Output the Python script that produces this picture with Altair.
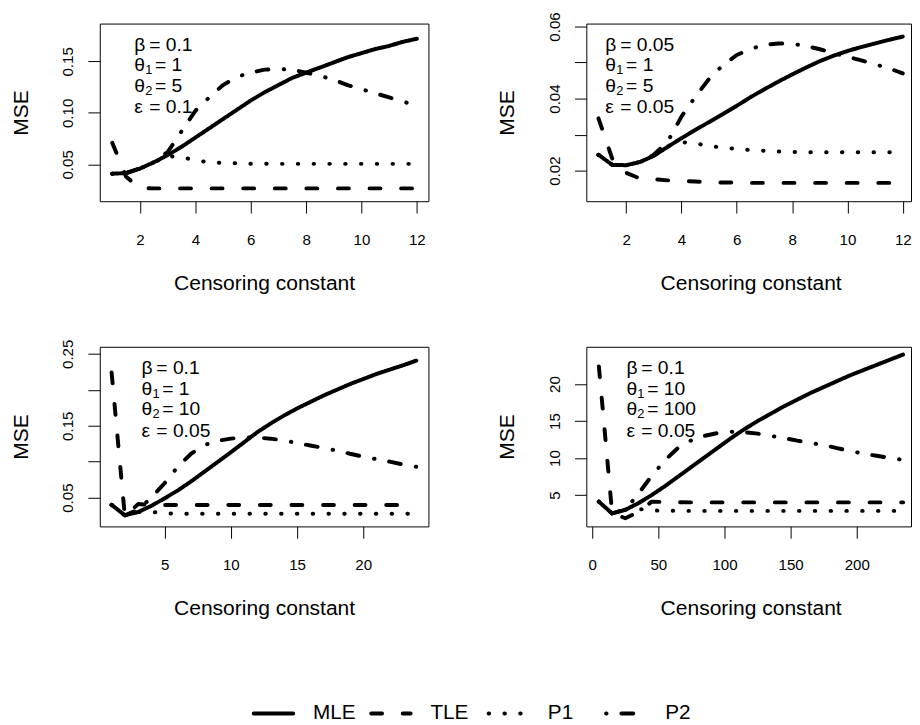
import altair as alt
import pandas as pd

FONT = "Liberation Sans"
SERIES = ["MLE", "TLE", "P1", "P2"]
DASHES = [[1, 0], [11, 21], [0.5, 15.5], [0.5, 15, 12, 15.5]]

# ---------------- data ----------------
X_HALF = [1, 1.5, 2, 2.5, 3, 3.5, 4, 4.5, 5, 5.5, 6, 6.5, 7, 7.5, 8, 8.5, 9, 9.5,
          10, 10.5, 11, 11.5, 12]
X_INT = [1, 2, 3, 4, 5, 6, 7, 8, 9, 10, 11, 12, 13, 14, 15, 16, 17, 18, 19, 20,
         21, 22, 23, 24]
X_TEN = [5, 15, 25, 35, 45, 55, 65, 75, 85, 95, 105, 115, 125, 135, 145, 155,
         165, 175, 185, 195, 205, 215, 225, 235]

# panel 1: beta=0.1, theta1=1, theta2=5, eps=0.1
P1_MLE = [0.041, 0.0415, 0.046, 0.052, 0.059, 0.067, 0.076, 0.085, 0.094, 0.103,
          0.112, 0.120, 0.127, 0.134, 0.139, 0.144, 0.149, 0.154, 0.158, 0.162,
          0.165, 0.169, 0.172]
P1_TLE = [0.071, 0.038, 0.027, 0.0267, 0.0267, 0.0267, 0.0267, 0.0267, 0.0267,
          0.0267, 0.0267, 0.0267, 0.0267, 0.0267, 0.0267, 0.0267, 0.0267, 0.0267,
          0.0267, 0.0267, 0.0267, 0.0267, 0.0267]
P1_P1 = [0.041, 0.0415, 0.046, 0.052, 0.058, 0.057, 0.054, 0.052, 0.0515, 0.051,
         0.0507, 0.0506, 0.0505, 0.0505, 0.0505, 0.0505, 0.0505, 0.0505, 0.0505,
         0.0505, 0.0505, 0.0505, 0.0505]
P1_P2 = [0.041, 0.0415, 0.046, 0.052, 0.062, 0.082, 0.102, 0.115, 0.127, 0.135,
         0.139, 0.142, 0.1425, 0.142, 0.139, 0.136, 0.132, 0.127, 0.123, 0.119,
         0.115, 0.111, 0.107]

# panel 2: beta=0.05, theta1=1, theta2=5, eps=0.05
P2_MLE = [0.0244, 0.0216, 0.0215, 0.0224, 0.0241, 0.0266, 0.0290, 0.0313, 0.0335,
          0.0357, 0.0380, 0.0404, 0.0426, 0.0447, 0.0467, 0.0486, 0.0504, 0.0519,
          0.0532, 0.0543, 0.0553, 0.0563, 0.0572]
P2_TLE = [0.0345, 0.0233, 0.0194, 0.0178, 0.0176, 0.0173, 0.0171, 0.0170, 0.0168,
          0.0167, 0.0167, 0.0166, 0.0166, 0.0166, 0.0166, 0.0166, 0.0166, 0.0166,
          0.0166, 0.0166, 0.0166, 0.0166, 0.0166]
P2_P1 = [0.0244, 0.0216, 0.0215, 0.0224, 0.0241, 0.0268, 0.0279, 0.0276, 0.0268,
         0.0264, 0.0260, 0.0257, 0.0255, 0.0253, 0.0252, 0.0251, 0.0251, 0.0251,
         0.0251, 0.0251, 0.0251, 0.0251, 0.0251]
P2_P2 = [0.0244, 0.0216, 0.0215, 0.0224, 0.0244, 0.0280, 0.0350, 0.0405, 0.0455,
         0.0493, 0.0521, 0.0538, 0.0549, 0.0553, 0.0552, 0.0546, 0.0537, 0.0526,
         0.0516, 0.0506, 0.0495, 0.0484, 0.0470]

# panel 3: beta=0.1, theta1=1, theta2=10, eps=0.05
P3_MLE = [0.040, 0.0253, 0.030, 0.0385, 0.049, 0.060, 0.0725, 0.086, 0.0995, 0.113,
          0.127, 0.141, 0.153, 0.164, 0.174, 0.183, 0.192, 0.200, 0.208, 0.215,
          0.222, 0.228, 0.234, 0.2405]
P3_TLE = [0.224, 0.024, 0.041, 0.0400, 0.0398, 0.0398, 0.0398, 0.0398, 0.0398,
          0.0398, 0.0398, 0.0398, 0.0398, 0.0398, 0.0398, 0.0398, 0.0398, 0.0398,
          0.0398, 0.0398, 0.0398, 0.0398, 0.0398, 0.0398]
P3_P1 = [0.040, 0.0253, 0.030, 0.0302, 0.028, 0.0276, 0.0275, 0.0275, 0.0275,
         0.0275, 0.0275, 0.0275, 0.0275, 0.0275, 0.0275, 0.0275, 0.0275, 0.0275,
         0.0275, 0.0275, 0.0275, 0.0275, 0.0275, 0.0275]
P3_P2 = [0.040, 0.0253, 0.033, 0.050, 0.070, 0.093, 0.111, 0.123, 0.129, 0.132,
         0.134, 0.1335, 0.132, 0.1295, 0.126, 0.1225, 0.119, 0.1155, 0.111, 0.107,
         0.1035, 0.100, 0.096, 0.093]

# panel 4: beta=0.1, theta1=10, theta2=100, eps=0.05
P4_MLE = [4.1, 2.5, 3.0, 3.9, 5.0, 6.2, 7.5, 8.8, 10.1, 11.4, 12.7, 13.9, 15.0,
          16.0, 17.0, 17.9, 18.8, 19.6, 20.4, 21.2, 21.9, 22.6, 23.3, 24.0]
P4_TLE = [22.4, 2.6, 1.85, 2.7, 4.1, 4.05, 4.02, 4.0, 4.0, 4.0, 4.0, 4.0, 4.0,
          4.0, 4.0, 4.0, 4.0, 4.0, 4.0, 4.0, 4.0, 4.0, 4.0, 4.0]
P4_P1 = [4.1, 2.5, 3.0, 3.1, 2.9, 2.87, 2.85, 2.85, 2.85, 2.85, 2.85, 2.85, 2.85,
         2.85, 2.85, 2.85, 2.85, 2.85, 2.85, 2.85, 2.85, 2.85, 2.85, 2.85]
P4_P2 = [4.1, 2.5, 3.0, 5.2, 7.6, 9.7, 11.4, 12.4, 13.0, 13.4, 13.55, 13.5, 13.3,
         13.0, 12.7, 12.35, 12.05, 11.75, 11.35, 10.95, 10.6, 10.3, 10.0, 9.75]

# axis ticks and labels
P1_XTICKS = [2, 4, 6, 8, 10, 12]
P1_YTICKS = [0.05, 0.10, 0.15]
P1_YLABELS = ["0.05", "0.10", "0.15"]
P2_XTICKS = [2, 4, 6, 8, 10, 12]
P2_YTICKS = [0.02, 0.03, 0.04, 0.05, 0.06]
P2_YLABELS = ["0.02", "", "0.04", "", "0.06"]
P3_XTICKS = [5, 10, 15, 20]
P3_YTICKS = [0.05, 0.10, 0.15, 0.20, 0.25]
P3_YLABELS = ["0.05", "", "0.15", "", "0.25"]
P4_XTICKS = [0, 50, 100, 150, 200]
P4_YTICKS = [5, 10, 15, 20]
P4_YLABELS = ["5", "10", "15", "20"]

# parameter annotations: (symbol, subscript, rest)
P1_ANN = [("β", "", "= 0.1"), ("θ", "1", "= 1"), ("θ", "2", "= 5"), ("ε", "", "= 0.1")]
P2_ANN = [("β", "", "= 0.05"), ("θ", "1", "= 1"), ("θ", "2", "= 5"), ("ε", "", "= 0.05")]
P3_ANN = [("β", "", "= 0.1"), ("θ", "1", "= 1"), ("θ", "2", "= 10"), ("ε", "", "= 0.05")]
P4_ANN = [("β", "", "= 0.1"), ("θ", "1", "= 10"), ("θ", "2", "= 100"), ("ε", "", "= 0.05")]

# ---------------- layout / style ----------------
ANN_BASE_Y = [27.5, 48.5, 69.5, 91]
SUB_DX, SUB_DY, REST_DX, REST_DX_SUB = 11, 3, 15, 21

TICK_FS, TITLE_FS, ANN_FS, SUB_FS, LEG_FS = 15.3, 21.3, 19.5, 13, 21


def panel(x, series, xdom, ydom, xticks, yticks, ylabels, w, h, ann, ann_x):
    rows = []
    for name, vals in zip(SERIES, series):
        for xi, yi in zip(x, vals):
            rows.append({"c": xi, "mse": yi, "est": name})
    df = pd.DataFrame(rows)
    labs = ",".join("'" + s + "'" for s in ylabels)
    vals = ",".join(repr(v) for v in yticks)
    label_expr = "[" + labs + "][indexof([" + vals + "], datum.value)]"

    xaxis = alt.Axis(values=xticks, title="Censoring constant", domain=False, grid=False,
                     ticks=True, tickSize=12, tickColor="black", tickWidth=1,
                     labelFont=FONT, labelFontSize=TICK_FS, labelColor="black",
                     labelPadding=20, labelFlush=False, labelOverlap=False,
                     titleFont=FONT, titleFontSize=TITLE_FS, titleFontWeight="normal",
                     titleColor="black", titlePadding=25.4, minExtent=47, maxExtent=47,
                     titleX=166.5, titleAlign="center")
    yaxis = alt.Axis(values=yticks, labelExpr=label_expr, title="MSE", domain=False,
                     grid=False, ticks=True, tickSize=12, tickColor="black", tickWidth=1,
                     labelAngle=270, labelAlign="center", labelBaseline="bottom",
                     labelFont=FONT, labelFontSize=TICK_FS, labelColor="black",
                     labelPadding=12.3, labelFlush=False, labelOverlap=False,
                     titleFont=FONT, titleFontSize=TITLE_FS, titleFontWeight="normal",
                     titleColor="black", titlePadding=29.5, minExtent=40, maxExtent=40,
                     titleAngle=270, titleBaseline="bottom", titleAlign="center",
                     titleY=h / 2)

    lines = alt.Chart(df).mark_line(
        color="black", strokeWidth=4, strokeCap="round", strokeJoin="round"
    ).encode(
        x=alt.X("c:Q", scale=alt.Scale(domain=xdom, nice=False, zero=False), axis=xaxis),
        y=alt.Y("mse:Q", scale=alt.Scale(domain=ydom, nice=False, zero=False), axis=yaxis),
        strokeDash=alt.StrokeDash("est:N", scale=alt.Scale(domain=SERIES, range=DASHES),
                                  legend=None),
    )

    one = pd.DataFrame({"k": [0]})
    texts = []
    for (sym, sub, rest), by in zip(ann, ANN_BASE_Y):
        texts.append(alt.Chart(one).mark_text(
            text=sym, align="left", baseline="alphabetic", font=FONT,
            fontSize=ANN_FS, color="black").encode(x=alt.value(ann_x), y=alt.value(by)))
        if sub:
            texts.append(alt.Chart(one).mark_text(
                text=sub, align="left", baseline="alphabetic", font=FONT,
                fontSize=SUB_FS, color="black").encode(
                    x=alt.value(ann_x + SUB_DX), y=alt.value(by + SUB_DY)))
        texts.append(alt.Chart(one).mark_text(
            text=rest, align="left", baseline="alphabetic", font=FONT,
            fontSize=ANN_FS, color="black").encode(
                x=alt.value(ann_x + (REST_DX_SUB if sub else REST_DX)), y=alt.value(by)))

    return alt.layer(lines, *texts).properties(
        width=w, height=h, view=alt.ViewBackground(stroke="black", strokeWidth=1))


c1 = panel(X_HALF, [P1_MLE, P1_TLE, P1_P1, P1_P2], [0.5495, 12.417], [0.01424, 0.1867],
           P1_XTICKS, P1_YTICKS, P1_YLABELS, 333, 180, P1_ANN, 35)
c2 = panel(X_HALF, [P2_MLE, P2_TLE, P2_P1, P2_P2], [0.561, 12.297], [0.01151, 0.06082],
           P2_XTICKS, P2_YTICKS, P2_YLABELS, 329, 180, P2_ANN, 19.3)
c3 = panel(X_INT, [P3_MLE, P3_TLE, P3_P1, P3_P2], [0.107, 24.92], [0.00995, 0.2598],
           P3_XTICKS, P3_YTICKS, P3_YLABELS, 333, 182, P3_ANN, 42.3)
c4 = panel(X_TEN, [P4_MLE, P4_TLE, P4_P1, P4_P2], [-4.48, 241.0], [0.75, 25.05],
           P4_XTICKS, P4_YTICKS, P4_YLABELS, 329, 182, P4_ANN, 40.7)

# ---------------- legend ----------------
LEG_SLOTS = [0, 1, 2, 3]
PITCH, SEG, TXT, LEG_OFF = 119.0, 40.0, 60.0, 156.0
LEG_Y = 42
leg_df = pd.DataFrame({"est": SERIES, "slot": LEG_SLOTS})
legbase = alt.Chart(leg_df).transform_calculate(
    seg_end="datum.slot + " + repr(SEG / PITCH),
    txt_x="datum.slot + " + repr(TXT / PITCH))
legx = alt.Scale(domain=[-LEG_OFF / PITCH, (333 - LEG_OFF) / PITCH], nice=False, zero=False)
leg_rule = legbase.mark_rule(color="black", strokeWidth=4, strokeCap="round").encode(
    x=alt.X("slot:Q", scale=legx, axis=None),
    x2="seg_end:Q",
    y=alt.value(LEG_Y),
    strokeDash=alt.StrokeDash("est:N", scale=alt.Scale(domain=SERIES, range=DASHES),
                              legend=None),
)
leg_text = legbase.mark_text(align="left", baseline="middle", font=FONT,
                             fontSize=LEG_FS, color="black").encode(
    x=alt.X("txt_x:Q", scale=legx, axis=None),
    y=alt.value(LEG_Y),
    text="est:N",
)
leg = alt.layer(leg_rule, leg_text).properties(
    width=333, height=50, view=alt.ViewBackground(stroke="transparent"))

chart = alt.concat(c1, c2, c3, c4, leg, columns=2,
                   spacing={"row": 147.5, "column": 160}, bounds="flush").properties(
    padding={"left": 2, "top": -2, "right": 0, "bottom": 0},
    background="white",
)

chart.save("out.html", embed_options={"renderer": "svg", "actions": False})
